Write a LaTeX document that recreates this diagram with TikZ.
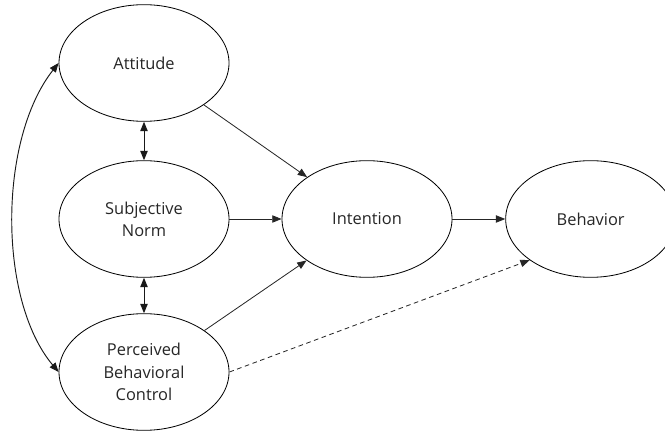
\documentclass[tikz,border=0pt]{standalone}
\usepackage{fontspec}
\setmainfont{Open Sans}
\usepackage{tikz}
\usetikzlibrary{shapes.geometric, arrows.meta, positioning}

\begin{document}
\begin{tikzpicture}[
    font=\fontsize{14}{19}\selectfont,
    construct/.style={ellipse, draw, line width=0.7pt, minimum width=5.1cm, minimum height=3.5cm, align=center, text=black!85, inner sep=0pt},
    arr/.style={-{Triangle[length=2.8mm, width=2.2mm]}, line width=0.7pt, black!85},
    darr/.style={{Triangle[length=2.8mm, width=2.2mm]}-{Triangle[length=2.8mm, width=2.2mm]}, line width=0.8pt, black!90}
]
\useasboundingbox (0,0) rectangle (19.95,12.99);

\node[construct] (att) at (4.32,11.10) {Attitude};
\node[construct] (sn)  at (4.32,6.42)  {Subjective\\Norm};
\node[construct] (pbc) at (4.32,1.83)  {Perceived\\Behavioral\\Control};
\node[construct] (int) at (11.01,6.42) {Intention};
\node[construct] (beh) at (17.72,6.42) {Behavior};

% correlations among the predictors
\draw[darr] (att.south) -- (sn.north);
\draw[darr] (sn.south) -- (pbc.north);
\draw[darr] (att.west) .. controls (-0.06,8.79) and (-0.06,3.99) .. (pbc.west);

% paths to intention and behavior
\draw[arr] (att) -- (int);
\draw[arr] (sn.east) -- (int.west);
\draw[arr] (pbc) -- (int);
\draw[arr] (int.east) -- (beh.west);
\draw[arr, dashed, dash pattern=on 4pt off 3pt] (pbc.east) -- (beh.214);
\end{tikzpicture}
\end{document}
